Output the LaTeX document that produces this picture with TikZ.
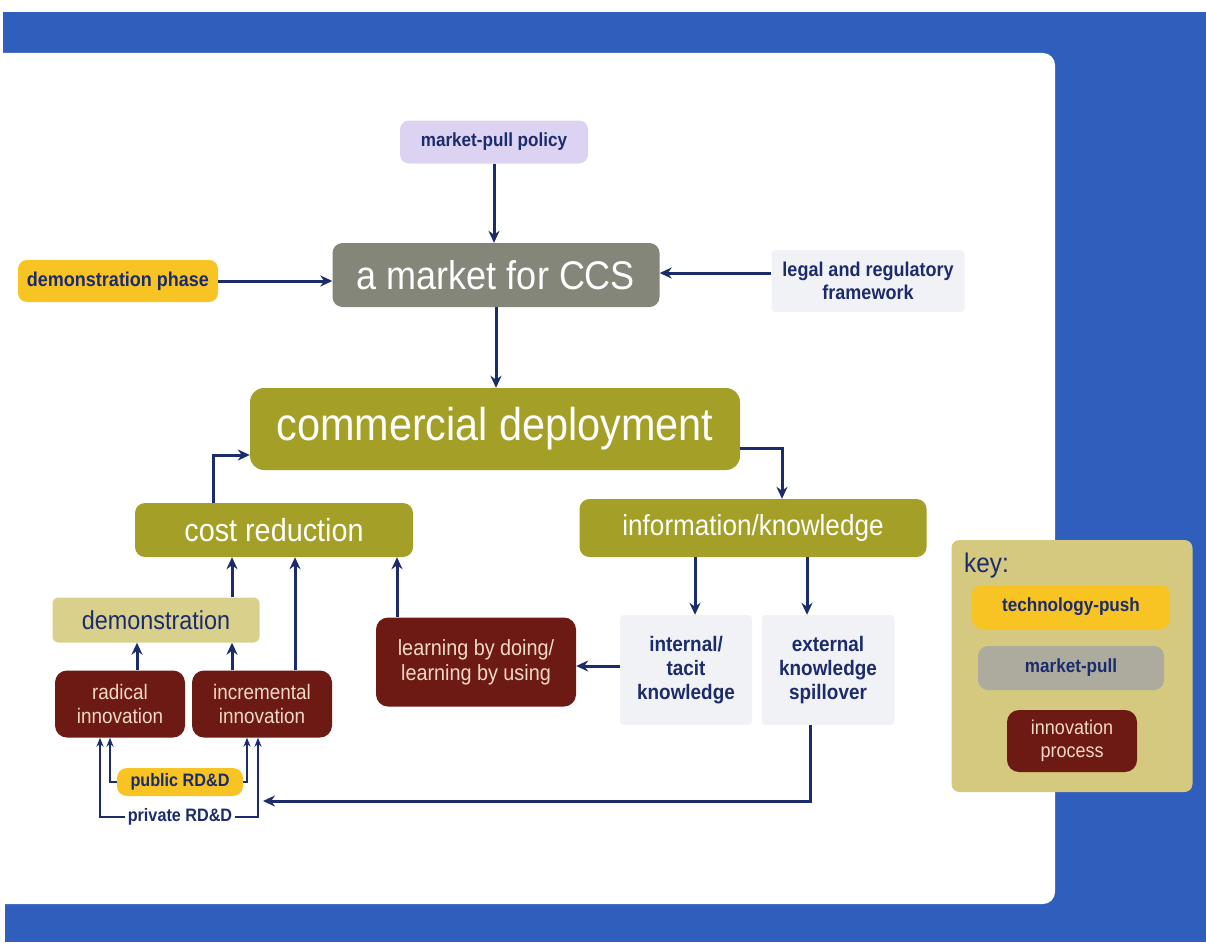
\documentclass[tikz,border=0pt]{standalone}
\usepackage{fontspec}
\setmainfont[FakeStretch=0.9]{Liberation Sans}
\usetikzlibrary{arrows.meta}
\definecolor{bgblue}{HTML}{2F5EBD}
\definecolor{navy}{HTML}{1C2B6B}
\definecolor{olive}{HTML}{A49F26}
\definecolor{mgray}{HTML}{84867A}
\definecolor{kgray}{HTML}{ADAA9E}
\definecolor{yel}{HTML}{F8C424}
\definecolor{lav}{HTML}{DCD3F2}
\definecolor{khaki}{HTML}{D9D08C}
\definecolor{keybg}{HTML}{D4C97E}
\definecolor{dred}{HTML}{6E1A14}
\definecolor{cream}{HTML}{F0D9C6}
\definecolor{pale}{HTML}{F1F2F5}
\begin{document}
\begin{tikzpicture}[x=1pt,y=-1pt,
  box/.style={rounded corners=9pt, inner sep=0pt, align=center},
  olivebox/.style={box, fill=olive, text=white},
  yelbox/.style={box, fill=yel, text=navy},
  redbox/.style={box, fill=dred, text=cream, rounded corners=12pt},
  palebox/.style={box, fill=pale, text=navy, rounded corners=4pt},
  arr/.style={draw=navy, line width=3pt, -{Stealth[length=12pt,width=11pt]}},
  thinarr/.style={draw=navy, line width=2pt, -{Stealth[length=9pt,width=7pt]}},
  fs/.style={font=\fontsize{#1}{#1}\selectfont\setlength\baselineskip{1.15\dimexpr#1pt\relax}},
  fsb/.style={font=\bfseries\fontsize{#1}{#1}\selectfont\setlength\baselineskip{1.15\dimexpr#1pt\relax}}]
\useasboundingbox (0,0) rectangle (1206,942);
\clip (0,0) rectangle (1206,942);
% frame
\fill[white] (0,0) rectangle (1206,942);
\fill[bgblue] (3,12) rectangle (1206,60);
\fill[bgblue] (1000,12) rectangle (1206,942);
\fill[bgblue] (5,890) rectangle (1206,942);
\fill[white, rounded corners=12pt] (-30,53) rectangle (1055,904);
% nodes
\node[box, fill=lav, text=navy, minimum width=188pt, minimum height=43pt, fsb=19] (mpp) at (494,142) {market-pull policy};
\node[box, fill=mgray, text=white, minimum width=327pt, minimum height=64pt, rounded corners=10pt, fs=40] (market) at (496,275) {a market for CCS};
\node[yelbox, minimum width=200pt, minimum height=42pt, fsb=20] (dphase) at (118,281) {demonstration phase};
\node[palebox, minimum width=193pt, minimum height=62pt, fsb=20] (legal) at (868,281) {legal and regulatory\\framework};
\node[olivebox, minimum width=490pt, minimum height=82pt, rounded corners=14pt, fs=46] (comm) at (495,429) {commercial deployment};
\node[olivebox, minimum width=278pt, minimum height=54pt, rounded corners=10pt, fs=32] (cost) at (274,530) {cost reduction};
\node[olivebox, minimum width=347pt, minimum height=58pt, rounded corners=10pt, fs=29] (info) at (753,528) {information/knowledge};
\node[box, fill=khaki, text=navy, minimum width=207pt, minimum height=45pt, rounded corners=6pt, fs=26] (demo) at (156,620) {demonstration};
\node[redbox, minimum width=130pt, minimum height=67pt, fs=21] (radical) at (120,704) {radical\\innovation};
\node[redbox, minimum width=140pt, minimum height=67pt, fs=21] (incr) at (262,704) {incremental\\innovation};
\node[redbox, minimum width=200pt, minimum height=89pt, fs=22] (lbd) at (476,662) {learning by doing/\\learning by using};
\node[palebox, minimum width=132pt, minimum height=110pt, fsb=21] (internal) at (686,670) {internal/\\tacit\\knowledge};
\node[palebox, minimum width=133pt, minimum height=110pt, fsb=21] (external) at (828,670) {external\\knowledge\\spillover};
\node[yelbox, minimum width=126pt, minimum height=28pt, rounded corners=10pt, fsb=18] (public) at (180,782) {public RD\&D};
\node[box, fill=white, text=navy, inner xsep=3pt, fsb=18] (private) at (180,817) {private RD\&D};
\coordinate (spillend) at (263,801);
% key
\node[box, fill=keybg, minimum width=241pt, minimum height=252pt, rounded corners=8pt] (key) at (1072,666) {};
\node[text=navy, anchor=west, fs=27, inner sep=0pt] (keyt) at (964,566) {key:};
\node[yelbox, minimum width=198pt, minimum height=44pt, rounded corners=10pt, fsb=19] (ktp) at (1071,607) {technology-push};
\node[box, fill=kgray, text=navy, minimum width=186pt, minimum height=44pt, rounded corners=10pt, fsb=19] (kmp) at (1071,668) {market-pull};
\node[redbox, minimum width=130pt, minimum height=62pt, fs=20] (kip) at (1072,741) {innovation\\process};
% connectors
\draw[arr] (mpp.south) -- (mpp.south |- market.north);
\draw[arr] (dphase.east) -- (market.west |- dphase.east);
\draw[arr] ([yshift=8pt]legal.west) -- ([yshift=2pt]market.east);
\draw[arr] (market.south) -- (market.south |- comm.north);
\draw[arr] ([xshift=-61pt]cost.north) |- ([yshift=-26pt]comm.west);
\draw[arr] ([yshift=-19pt]comm.east) -| ([xshift=29pt]info.north);
\draw[arr] ([xshift=76pt]demo.north) -- ([xshift=-42pt]cost.south);
\draw[arr] ([xshift=33pt]incr.north) -- ([xshift=21pt]cost.south);
\draw[arr] ([xshift=-30pt]incr.north) -- ([xshift=76pt]demo.south);
\draw[arr] ([xshift=17pt]radical.north) -- ([xshift=-19pt]demo.south);
\draw[arr] ([xshift=-79pt]lbd.north) -- ([xshift=123pt]cost.south);
\draw[arr] ([xshift=-58pt]info.south) -- ([xshift=9pt]internal.north);
\draw[arr] ([xshift=54pt]info.south) -- ([xshift=-21pt]external.north);
\draw[arr] ([yshift=4pt]internal.west) -- ([yshift=-4pt]lbd.east);
\draw[arr] ([xshift=-18pt]external.south) |- (spillend);
\draw[thinarr] (public.west) -| ([xshift=-10pt]radical.south);
\draw[thinarr] (public.east) -| ([xshift=-15pt]incr.south);
\draw[thinarr] (private.west) -| ([xshift=-20pt]radical.south);
\draw[thinarr] (private.east) -| ([xshift=-4pt]incr.south);
\end{tikzpicture}
\end{document}
